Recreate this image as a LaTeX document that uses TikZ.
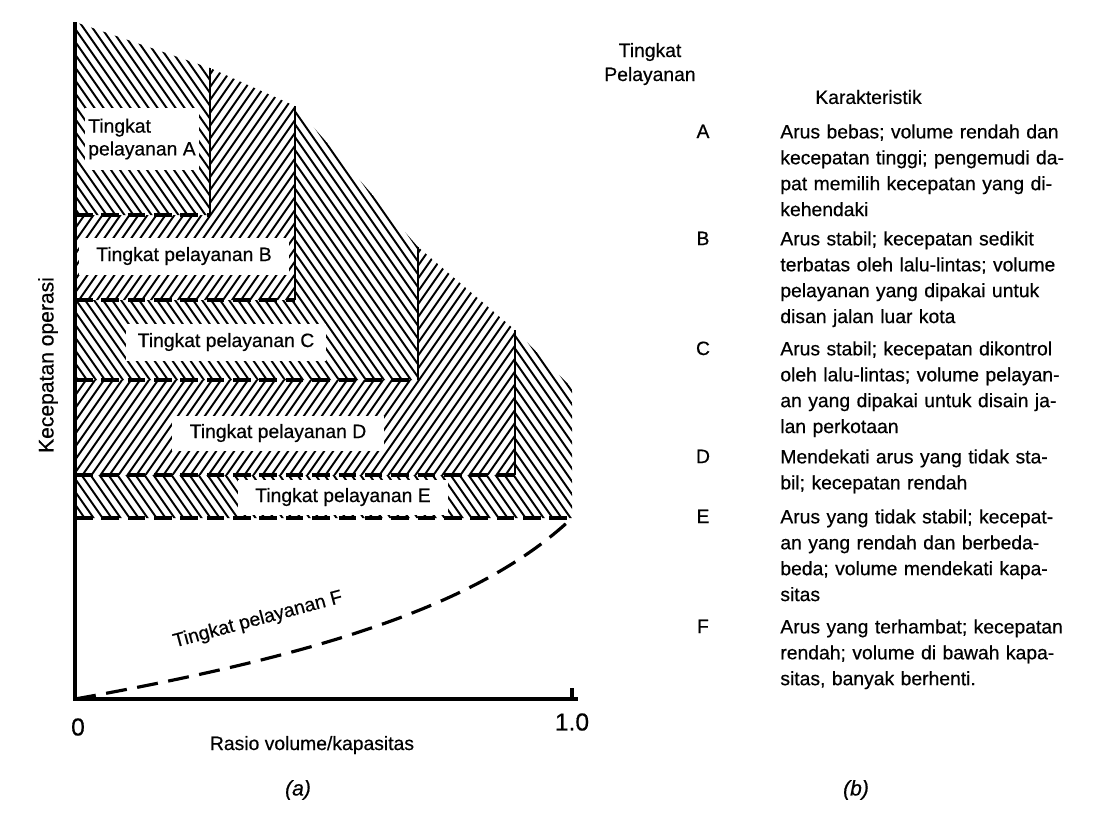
\documentclass[tikz,border=0pt]{standalone}
\usepackage{fontspec}
\setmainfont{Liberation Sans}[FakeBold=0.5]

\newlength{\descw}
\setlength{\descw}{5.7cm}
\newcommand{\jl}[1]{\makebox[\descw][s]{#1}\\}

\begin{document}
\begin{tikzpicture}[x=0.02cm, y=-0.02cm,
    hatchln/.style={line width=1.1pt},
    divider/.style={line width=1.3pt},
    lvlline/.style={line width=1.8pt, dash pattern=on 10pt off 5pt},
    axisln/.style={line width=1.8pt},
    fcurve/.style={line width=1.8pt, dash pattern=on 12pt off 6pt},
    txt/.style={font=\fontsize{11}{13}\selectfont, inner sep=0pt},
    lvlbox/.style={txt, fill=white},
    ticklbl/.style={font=\fontsize{14}{16}\selectfont, inner sep=0pt},
    capt/.style={font=\fontsize{12}{14}\selectfont\itshape, inner sep=0pt},
    desc/.style={font=\fontsize{11}{14.74}\selectfont, text width=\descw,
                 align=left, inner sep=0pt, anchor=north west}]

\useasboundingbox (0,0) rectangle (1104,816);

% ------------------------------------------------------------------
% === GEOMETRY (pixel units, y downward) ===========================
\def\xO{75}      \def\yO{699}     % origin
\def\yTop{22}                     % top of speed axis
\def\xEnd{578}                    % end of ratio axis
\def\xOne{572}                    % v/c = 1.0
% ==================================================================

\coordinate (O)    at (\xO,\yO);
\coordinate (Ytop) at (\xO,\yTop);
\coordinate (Xend) at (\xEnd,\yO);
\coordinate (Tk)   at (\xOne,\yO);
\coordinate (Tkup) at (\xOne,688);
\coordinate (Fend) at (\xOne,518);

% --- hatched zones A..E (x left, top left, x right, top right, ------
%     upper level, lower level, hatch direction) --------------------
\foreach \xl/\tl/\xr/\tr/\yhi/\ylo/\dir in {
    75/22/210/68/22/215/1,
    210/68/295/106/215/300/-1,
    295/106/418/247/300/380/1,
    418/247/515/330/380/475/-1,
    515/330/572/388/475/518/1}
{
  \begin{scope}
    \clip (\xO,\yhi) -- (\xl,\yhi) -- (\xl,\tl) -- (\xr,\tr)
          -- (\xr,\ylo) -- (\xO,\ylo) -- cycle;
    \foreach \h in {-440,-431,...,1080}
      \draw[hatchln] (\h,0) -- ++(\dir*504,720);
  \end{scope}
}

% --- white label boxes ---------------------------------------------
\node[lvlbox, minimum width=2.3cm, minimum height=1.24cm, align=left]
      (lvA) at (142,139) {Tingkat\\pelayanan A};
\node[lvlbox, minimum width=4.2cm, minimum height=0.74cm]
      (lvB) at (184,256) {Tingkat pelayanan B};
\node[lvlbox, minimum width=4.0cm, minimum height=0.74cm]
      (lvC) at (226,342) {Tingkat pelayanan C};
\node[lvlbox, minimum width=4.24cm, minimum height=0.7cm]
      (lvD) at (278,433) {Tingkat pelayanan D};
\node[lvlbox, minimum width=4.2cm, minimum height=0.7cm]
      (lvE) at (343,497) {Tingkat pelayanan E};

% --- zone borders --------------------------------------------------
\foreach \x/\t/\b in {210/68/215, 295/106/300, 418/247/380, 515/330/475}
  \draw[divider] (\x,\t) -- (\x,\b);
\foreach \y/\x in {215/210, 300/295, 380/418, 475/515, 518/572}
  \draw[lvlline] (\xO,\y) -- (\x,\y);

% --- level F curve -------------------------------------------------
\draw[fcurve] (O) .. controls (320,655) and (480,605) .. (Fend);
\node[txt, rotate=15] (lvF) at (258,620) {Tingkat pelayanan F};

% --- axes ----------------------------------------------------------
\draw[axisln] (Ytop) -- (O) -- (Xend);
\draw[axisln] (Tk) -- (Tkup);
\node[ticklbl] (x0) at (78,727)  {0};
\node[ticklbl] (x1) at (572,722) {1.0};
\node[txt] (xlab) at (312,745) {Rasio volume/kapasitas};
\node[txt, font=\fontsize{12}{14}\selectfont, rotate=90]
      (ylab) at (48,365) {Kecepatan operasi};
\node[capt] (capa) at (298,790) {(a)};

% === table (b) =====================================================
\node[txt] (hdT) at (650,52) {Tingkat};
\node[txt] (hdP) at (650,76) {Pelayanan};
\node[txt, anchor=west] (hdK) at (815,97) {Karakteristik};

\foreach \l/\y in {A/138, B/245, C/355, D/463, E/523, F/633}
  \node[txt, anchor=base] (lt\l) at (703,\y) {\l};

\node[desc] (dsA) at (780,124) {\jl{Arus bebas; volume rendah dan}%
  \jl{kecepatan tinggi; pengemudi da-}\jl{pat memilih kecepatan yang di-}%
  kehendaki};
\node[desc] (dsB) at (780,231) {\jl{Arus stabil; kecepatan sedikit}%
  \jl{terbatas oleh lalu-lintas; volume}\jl{pelayanan yang dipakai untuk}%
  disan jalan luar kota};
\node[desc] (dsC) at (780,341) {\jl{Arus stabil; kecepatan dikontrol}%
  \jl{oleh lalu-lintas; volume pelayan-}\jl{an yang dipakai untuk disain ja-}%
  lan perkotaan};
\node[desc] (dsD) at (780,449) {\jl{Mendekati arus yang tidak sta-}%
  bil; kecepatan rendah};
\node[desc] (dsE) at (780,509) {\jl{Arus yang tidak stabil; kecepat-}%
  \jl{an yang rendah dan berbeda-}\jl{beda; volume mendekati kapa-}%
  sitas};
\node[desc] (dsF) at (780,619) {\jl{Arus yang terhambat; kecepatan}%
  \jl{rendah; volume di bawah kapa-}%
  sitas, banyak berhenti.};

\node[capt] (capb) at (856,790) {(b)};

\end{tikzpicture}
\end{document}
